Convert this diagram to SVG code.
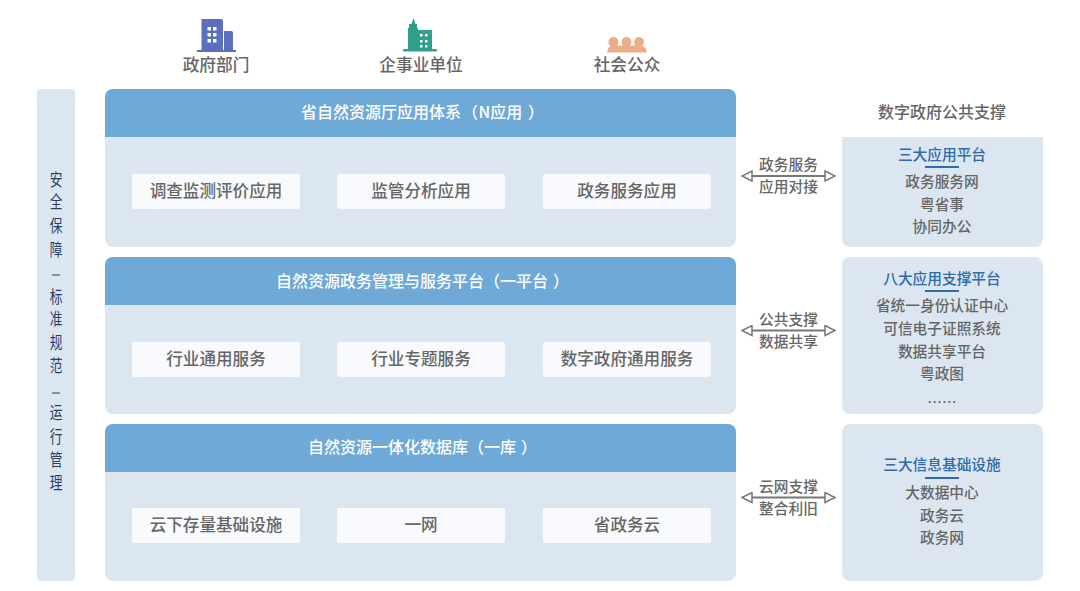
<svg xmlns="http://www.w3.org/2000/svg" width="1080" height="591" viewBox="0 0 1080 591">
<defs>
<style>
text{font-family:"Noto Sans CJK SC","Noto Sans",sans-serif;text-anchor:middle}
.panel{fill:#dce6f1}
.head{fill:#6ea9d7}
.card{fill:#f8fafd}
.ht{font-size:16px;fill:#fff;font-weight:500;text-anchor:start}
.ct{font-size:16.6px;fill:#666;font-weight:500}
.tt{font-size:16px;fill:#666;font-weight:500}
.top{font-size:16.7px;fill:#666;font-weight:500}
.rt{font-size:14.7px;fill:#666;font-weight:500}
.rh{font-size:14.7px;fill:#2e6ba8;font-weight:500}
.lt{font-size:14.7px;fill:#666;font-weight:500}
.sd{font-size:15px;fill:#2a3f66;font-weight:400}
.dash{stroke:#2a3f66;stroke-width:1;fill:none}
.ul{stroke:#2e6ba8;stroke-width:2;fill:none}
.conn{stroke:#777;stroke-width:1.8;fill:none}
</style>
<marker id="tri" viewBox="0 0 12 12" refX="11" refY="6" markerWidth="12" markerHeight="12" markerUnits="userSpaceOnUse" orient="auto-start-reverse"><path d="M1 1L11 6L1 11Z" fill="#fff" stroke="#777" stroke-width="1.5"/></marker>
</defs>
<rect width="1080" height="591" fill="#fff"/>
<g id="actor-gov">
<path d="M201.500 19h19.500q2 0 2 2v29h-21.500z" fill="#5b6fbd"/><path d="M224 31h7q2 0 2 2v17h-9z" fill="#5b6fbd"/><rect x="197" y="50" width="39" height="2" fill="#5b6fbd"/>
<path d="M207.500 27h3.500v3.500h-3.500zM213 27h3.500v3.500h-3.500zM207.500 33h3.500v3.500h-3.500zM213 33h3.500v3.500h-3.500zM207.500 39h3.500v3.500h-3.500zM213 39h3.500v3.500h-3.500z" fill="#fff"/>
<text class="top" x="216" y="71">政府部门</text></g>
<g id="actor-ent">
<path d="M413.500 18l2 6h1.500v4h1v22h-10v-22h1v-4h2.500z" fill="#2f9f8a"/><rect x="418" y="30" width="14" height="20" fill="#2f9f8a"/><rect x="403" y="49" width="34" height="2.500" rx="1.250" fill="#2f9f8a"/>
<path d="M420 34h2.500v2.500h-2.500zM425 34h2.500v2.500h-2.500zM420 40h2.500v2.500h-2.500zM425 40h2.500v2.500h-2.500zM420 45h2.500v2.500h-2.500zM425 45h2.500v2.500h-2.500z" fill="#fff"/>
<text class="top" x="421" y="71">企事业单位</text></g>
<g id="actor-pub">
<circle cx="613.500" cy="42" r="5" fill="#e9ad88"/><circle cx="626.500" cy="42" r="5" fill="#e9ad88"/><circle cx="639" cy="42" r="5" fill="#e9ad88"/>
<path d="M607 52.500q1-7 6-7h27q6 0 7 7z" fill="#e9ad88"/>
<text class="top" x="627" y="71">社会公众</text></g>
<g id="side">
<rect class="panel" x="37" y="89" width="38" height="492" rx="4"/>
<text class="sd" transform="translate(56 186) scale(.85 1.1)">安</text>
<text class="sd" transform="translate(56 208) scale(.85 1.1)">全</text>
<text class="sd" transform="translate(56 232) scale(.85 1.1)">保</text>
<text class="sd" transform="translate(56 256) scale(.85 1.1)">障</text>
<line class="dash" x1="52" y1="275" x2="60" y2="275"/>
<text class="sd" transform="translate(56 303) scale(.85 1.1)">标</text>
<text class="sd" transform="translate(56 325) scale(.85 1.1)">准</text>
<text class="sd" transform="translate(56 349) scale(.85 1.1)">规</text>
<text class="sd" transform="translate(56 372) scale(.85 1.1)">范</text>
<line class="dash" x1="52" y1="393" x2="60" y2="393"/>
<text class="sd" transform="translate(56 419) scale(.85 1.1)">运</text>
<text class="sd" transform="translate(56 443) scale(.85 1.1)">行</text>
<text class="sd" transform="translate(56 466) scale(.85 1.1)">管</text>
<text class="sd" transform="translate(56 489) scale(.85 1.1)">理</text>
</g>
<g id="layer-app">
<rect class="panel" x="105" y="89" width="631" height="158" rx="8"/>
<path class="head" d="M105 137V97a8 8 0 0 1 8-8H728a8 8 0 0 1 8 8V137z"/>
<text class="ht" x="301" y="118">省自然资源厅应用体系<tspan x="462">（</tspan><tspan x="478.500">N应用</tspan><tspan x="528">）</tspan></text>
<rect class="card" x="132" y="174" width="168" height="35" rx="2"/><text class="ct" x="216" y="197">调查监测评价应用</text>
<rect class="card" x="337" y="174" width="168" height="35" rx="2"/><text class="ct" x="421" y="197">监管分析应用</text>
<rect class="card" x="543" y="174" width="168" height="35" rx="2"/><text class="ct" x="627" y="197">政务服务应用</text>
</g>
<g id="layer-platform">
<rect class="panel" x="105" y="257" width="631" height="157" rx="8"/>
<path class="head" d="M105 305V265a8 8 0 0 1 8-8H728a8 8 0 0 1 8 8V305z"/>
<text class="ht" x="276" y="287">自然资源政务管理与服务平台<tspan x="484">（</tspan><tspan x="500">一平台</tspan><tspan x="553">）</tspan></text>
<rect class="card" x="132" y="342" width="168" height="35" rx="2"/><text class="ct" x="216" y="365">行业通用服务</text>
<rect class="card" x="337" y="342" width="168" height="35" rx="2"/><text class="ct" x="421" y="365">行业专题服务</text>
<rect class="card" x="543" y="342" width="168" height="35" rx="2"/><text class="ct" x="627" y="365">数字政府通用服务</text>
</g>
<g id="layer-db">
<rect class="panel" x="105" y="424" width="631" height="157" rx="8"/>
<path class="head" d="M105 472V432a8 8 0 0 1 8-8H728a8 8 0 0 1 8 8V472z"/>
<text class="ht" x="308" y="453">自然资源一体化数据库<tspan x="468">（</tspan><tspan x="484">一库</tspan><tspan x="521">）</tspan></text>
<rect class="card" x="132" y="508" width="168" height="35" rx="2"/><text class="ct" x="216" y="531">云下存量基础设施</text>
<rect class="card" x="337" y="508" width="168" height="35" rx="2"/><text class="ct" x="421" y="531">一网</text>
<rect class="card" x="543" y="508" width="168" height="35" rx="2"/><text class="ct" x="627" y="531">省政务云</text>
</g>
<g id="connectors">
<line class="conn" x1="742" y1="176" x2="835" y2="176" marker-start="url(#tri)" marker-end="url(#tri)"/>
<line class="conn" x1="742" y1="330.500" x2="835" y2="330.500" marker-start="url(#tri)" marker-end="url(#tri)"/>
<line class="conn" x1="742" y1="497.500" x2="835" y2="497.500" marker-start="url(#tri)" marker-end="url(#tri)"/>
</g>
<g id="conn-labels">
<text class="lt" x="788.500" y="170">政务服务</text><text class="lt" x="788.500" y="192">应用对接</text>
<text class="lt" x="788.500" y="325">公共支撑</text><text class="lt" x="788.500" y="347">数据共享</text>
<text class="lt" x="788.500" y="492">云网支撑</text><text class="lt" x="788.500" y="514">整合利旧</text>
</g>
<g id="support-title"><text class="tt" x="942" y="118">数字政府公共支撑</text></g>
<g id="support-app">
<path class="panel" d="M842 137H1043V239a8 8 0 0 1-8 8H850a8 8 0 0 1-8-8z"/>
<text class="rh" x="942" y="160">三大应用平台</text><line class="ul" x1="925" y1="167" x2="959" y2="167"/>
<text class="rt" x="942" y="187">政务服务网</text><text class="rt" x="942" y="210">粤省事</text><text class="rt" x="942" y="232">协同办公</text>
</g>
<g id="support-platform">
<rect class="panel" x="842" y="257" width="201" height="157" rx="8"/>
<text class="rh" x="942" y="284">八大应用支撑平台</text><line class="ul" x1="925" y1="291" x2="959" y2="291"/>
<text class="rt" x="942" y="311">省统一身份认证中心</text><text class="rt" x="942" y="334">可信电子证照系统</text><text class="rt" x="942" y="357">数据共享平台</text><text class="rt" x="942" y="379">粤政图</text><text class="rt" x="942" y="408">……</text>
</g>
<g id="support-infra">
<rect class="panel" x="842" y="424" width="201" height="157" rx="8"/>
<text class="rh" x="942" y="470">三大信息基础设施</text><line class="ul" x1="925" y1="478" x2="959" y2="478"/>
<text class="rt" x="942" y="498">大数据中心</text><text class="rt" x="942" y="521">政务云</text><text class="rt" x="942" y="543">政务网</text>
</g>
</svg>
